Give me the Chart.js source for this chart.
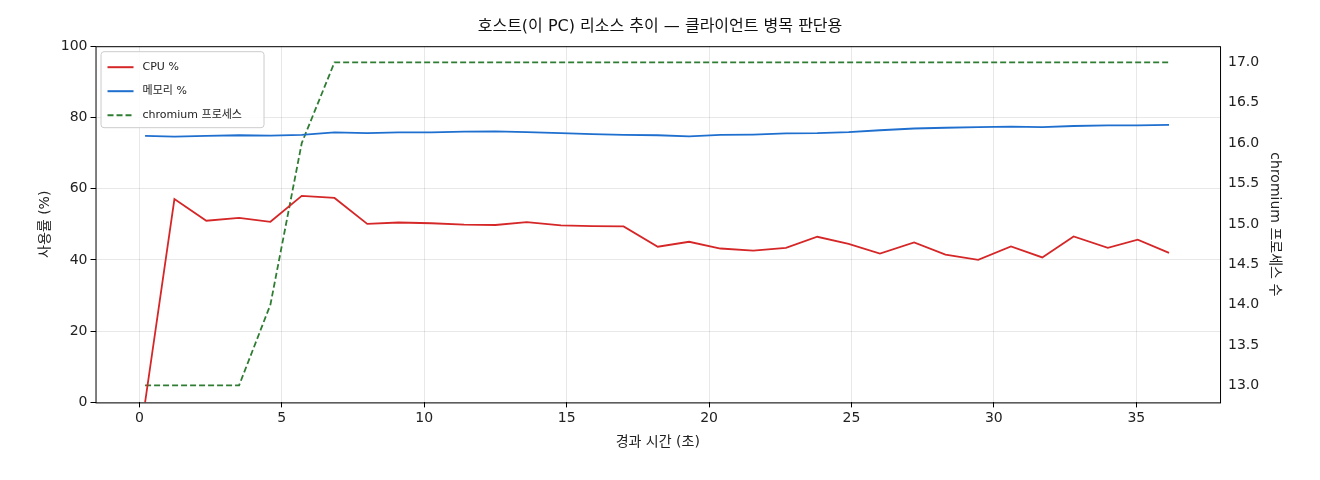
<!DOCTYPE html>
<html><head><meta charset="utf-8">
<script src="https://cdn.jsdelivr.net/npm/chart.js@4/dist/chart.umd.min.js"></script>
<style>html,body{margin:0;padding:0;background:#fff}#w{width:1320px;height:480px}</style>
</head><body><div id="w"><canvas id="c"></canvas></div>
<script>
const times=[0.2,1.23,2.35,3.5,4.6,5.7,6.85,8.0,9.1,10.25,11.4,12.5,13.6,14.8,15.9,17.0,18.2,19.3,20.4,21.55,22.7,23.8,24.9,26.0,27.2,28.3,29.45,30.6,31.7,32.8,34.0,35.05,36.15];
const cpu=[0,57.1,51,51.8,50.7,58,57.4,50.1,50.5,50.3,49.9,49.8,50.6,49.7,49.5,49.4,43.7,45.1,43.2,42.6,43.4,46.5,44.5,41.8,44.9,41.5,40,43.8,40.7,46.6,43.4,45.7,42];
const mem=[74.8,74.6,74.8,75.0,74.9,75.1,75.8,75.6,75.8,75.8,76.0,76.1,75.9,75.6,75.3,75.1,75.0,74.7,75.1,75.2,75.5,75.6,75.9,76.4,76.9,77.1,77.3,77.4,77.3,77.6,77.8,77.8,77.9];
const procs=[13,13,13,13,14,16,17,17,17,17,17,17,17,17,17,17,17,17,17,17,17,17,17,17,17,17,17,17,17,17,17,17,17];
const pts=a=>a.map((v,i)=>({x:times[i],y:v}));
const F="'DejaVu Sans','Noto Sans CJK KR',sans-serif";
Chart.defaults.font.family=F;Chart.defaults.color='#222';
const legendIn={id:'li',afterDraw(ch){const c=ch.ctx,a=ch.chartArea;const x=a.left+5,y=a.top+5,w=163,h=76;
c.save();c.fillStyle='rgba(255,255,255,0.85)';c.strokeStyle='#ccc';c.lineWidth=1;c.beginPath();c.roundRect(x+0.5,y+0.5,w,h,3);c.fill();c.stroke();
ch.data.datasets.forEach((d,i)=>{const yy=y+16+i*24;c.strokeStyle=d.borderColor;c.lineWidth=2;c.setLineDash(d.borderDash||[]);c.beginPath();c.moveTo(x+7,yy);c.lineTo(x+33,yy);c.stroke();c.setLineDash([]);
c.fillStyle='#222';c.font='11px '+F;c.textBaseline='middle';c.fillText(d.label,x+42,yy);});c.restore();}};
const frame={id:'fr',afterDraw(ch){const c=ch.ctx,a=ch.chartArea;c.save();c.strokeStyle='#000';c.lineWidth=1;c.strokeRect(a.left+0.5,a.top+0.5,a.right-a.left,a.bottom-a.top);c.restore();}};
new Chart(document.getElementById('c'),{type:'line',
data:{datasets:[
{label:'CPU %',data:pts(cpu),borderColor:'#d62728',borderWidth:1.8,pointRadius:0,yAxisID:'y',tension:0},
{label:'메모리 %',data:pts(mem),borderColor:'#1f6fcf',borderWidth:1.8,pointRadius:0,yAxisID:'y',tension:0},
{label:'chromium 프로세스',data:pts(procs),borderColor:'#2e7d32',borderWidth:1.8,borderDash:[6,3],pointRadius:0,yAxisID:'y2',tension:0}]},
options:{responsive:true,maintainAspectRatio:false,animation:false,
layout:{padding:{left:33,right:33,top:13,bottom:25}},
plugins:{legend:{display:false},tooltip:{enabled:false},
title:{display:true,text:'호스트(이 PC) 리소스 추이 — 클라이언트 병목 판단용',font:{size:16,weight:'normal'},color:'#111',padding:{top:4,bottom:10}}},
scales:{
x:{type:'linear',min:-1.54,max:37.94,ticks:{stepSize:5,font:{size:14},callback:v=>Number.isInteger(v)&&v%5===0?v:''},
 afterBuildTicks:s=>{s.ticks=[0,5,10,15,20,25,30,35].map(v=>({value:v}));},
 grid:{color:'rgba(0,0,0,0.09)',tickColor:'#000',tickLength:5},border:{display:false},
 title:{display:true,text:'경과 시간 (초)',font:{size:14}}},
y:{position:'left',min:0,max:100,ticks:{stepSize:20,font:{size:14}},grid:{color:'rgba(0,0,0,0.09)',tickColor:'#000',tickLength:5},border:{display:false},
 title:{display:true,text:'사용률 (%)',font:{size:14}}},
y2:{position:'right',min:12.79,max:17.2,ticks:{font:{size:14},callback:v=>v.toFixed(1)},
 afterBuildTicks:s=>{s.ticks=[13,13.5,14,14.5,15,15.5,16,16.5,17].map(v=>({value:v}));},
 grid:{display:false,tickColor:'#000',tickLength:5},border:{display:false},
 title:{display:true,text:'chromium 프로세스 수',font:{size:14}}}}},
plugins:[legendIn,frame]});
</script></body></html>
